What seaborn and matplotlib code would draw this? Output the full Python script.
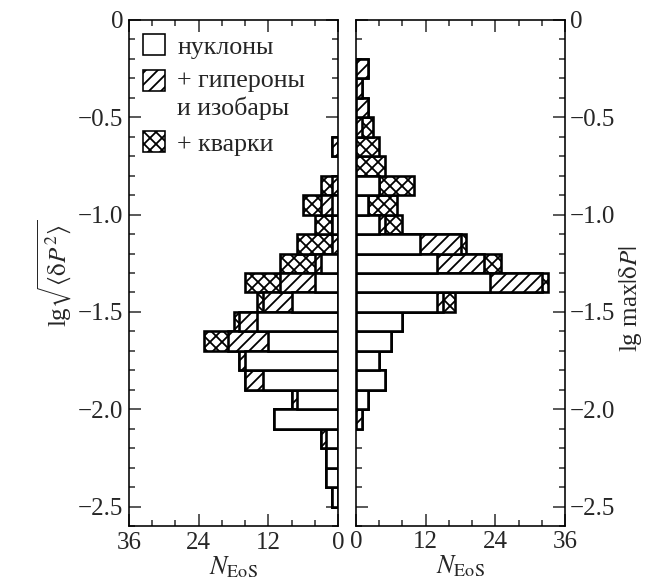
import numpy as np
import pandas as pd
import matplotlib
matplotlib.use('Agg')
import matplotlib.pyplot as plt
import seaborn as sns
from matplotlib.patches import Patch, Rectangle
from matplotlib.legend_handler import HandlerPatch
from matplotlib.ticker import MultipleLocator

# ---- data (bin centres of lg values, counts of EoS per bin) ----
bin_centers = [-0.25, -0.35, -0.45, -0.55, -0.65, -0.75, -0.85, -0.95, -1.05, -1.15,
               -1.25, -1.35, -1.45, -1.55, -1.65, -1.75, -1.85, -1.95, -2.05, -2.15,
               -2.25, -2.35, -2.45]
# left panel: lg sqrt(<dP^2>)
left_nucleons = [0, 0, 0, 0, 0, 0, 0, 1, 1, 0, 3, 4, 8, 14, 12, 16, 13, 7, 11, 2, 2, 2, 1]
left_hyperons = [0, 0, 0, 0, 1, 0, 1, 2, 0, 1, 1, 6, 5, 3, 7, 1, 3, 1, 0, 1, 0, 0, 0]
left_quarks   = [0, 0, 0, 0, 0, 0, 2, 3, 3, 6, 6, 6, 1, 1, 4, 0, 0, 0, 0, 0, 0, 0, 0]
# right panel: lg max|dP|
right_nucleons = [0, 0, 0, 0, 0, 0, 4, 2, 4, 11, 14, 23, 14, 8, 6, 4, 5, 2, 0, 0, 0, 0, 0]
right_hyperons = [2, 1, 2, 1, 0, 0, 0, 0, 1, 7, 8, 9, 1, 0, 0, 0, 0, 0, 1, 0, 0, 0, 0]
right_quarks   = [0, 0, 0, 2, 4, 5, 6, 5, 3, 1, 3, 1, 2, 0, 0, 0, 0, 0, 0, 0, 0, 0, 0]

legend_labels = ['нуклоны', '+ гипероны\nи изобары', '+ кварки']
x_ticks = [0, 12, 24, 36]
x_ticklabels = ['0', '12', '24', '36']
y_ticks = [0, -0.5, -1.0, -1.5, -2.0, -2.5]
y_ticklabels = ['0', '\u22120.5', '\u22121.0', '\u22121.5', '\u22122.0', '\u22122.5']

DPI = 72
sns.set_style('ticks')
plt.rcParams['font.family'] = ['Liberation Serif', 'DejaVu Serif']
plt.rcParams['mathtext.fontset'] = 'stix'
plt.rcParams['hatch.linewidth'] = 1.8
FS = 25
FS_LEG = 26

fig = plt.figure(figsize=(650 / DPI, 587 / DPI), dpi=DPI)
W, H = 650, 587
ax1 = fig.add_axes([129 / W, 1 - 526 / H, 209 / W, 506 / H])
ax2 = fig.add_axes([356 / W, 1 - 526 / H, 209 / W, 506 / H])

centers = np.round(np.array(bin_centers), 2)
HATCH_H = '//'
HATCH_Q = 'xx'


def draw(ax, nuc, hyp, qrk):
    nuc = np.array(nuc)
    hyp = np.array(hyp)
    qrk = np.array(qrk)
    layers = [(nuc + hyp + qrk, HATCH_Q), (nuc + hyp, HATCH_H), (nuc, '')]
    for vals, hatch in layers:
        m = vals > 0
        df = pd.DataFrame({'lg': centers[m], 'n': vals[m]})
        sns.barplot(data=df, x='n', y='lg', orient='h', native_scale=True,
                    width=1.0, color='white', saturation=1, edgecolor='black',
                    linewidth=2.6, hatch=hatch, errorbar=None, ax=ax)


draw(ax1, left_nucleons, left_hyperons, left_quarks)
draw(ax2, right_nucleons, right_hyperons, right_quarks)

for ax in (ax1, ax2):
    ax.set_ylim(-2.6, 0)
    ax.set_yticks(y_ticks)
    ax.yaxis.set_minor_locator(MultipleLocator(0.1))
    ax.set_xticks(x_ticks)
    ax.set_xticklabels(x_ticklabels)
    ax.xaxis.set_minor_locator(MultipleLocator(4))
    ax.tick_params(which='both', direction='in', top=True, right=True,
                   bottom=True, left=True, width=1.5, labelsize=FS, pad=6)
    ax.tick_params(which='major', length=12)
    ax.tick_params(which='minor', length=6)
    for s in ax.spines.values():
        s.set_linewidth(1.6)
        s.set_color('black')
    ax.set_xlabel(r'$N_{\mathrm{EoS}}$', fontsize=FS + 1, labelpad=0)

ax1.set_xlim(36, 0)
ax2.set_xlim(0, 36)

ax1.set_yticklabels(y_ticklabels)
ax1.set_ylabel(r'lg$\sqrt{\langle \mathrm{\delta} P^2 \rangle}$', fontsize=FS, labelpad=4)

ax2.set_yticklabels(y_ticklabels)
ax2.tick_params(labelleft=False, labelright=True, pad=5)
ax2.yaxis.set_label_position('right')
ax2.set_ylabel(r'lg max$|\mathrm{\delta} P|$', fontsize=FS)
ax2.yaxis.set_label_coords(1.25, 0.45)


def first_line_patch(legend, orig_handle, xdescent, ydescent, width, height, fontsize):
    return Rectangle((-xdescent, -ydescent + 0.55 * fontsize), width, height)


handles = [Patch(facecolor='white', edgecolor='black', linewidth=1.6, hatch=''),
           Patch(facecolor='white', edgecolor='black', linewidth=1.6, hatch=HATCH_H),
           Patch(facecolor='white', edgecolor='black', linewidth=1.6, hatch=HATCH_Q)]
ax1.legend(handles=handles, labels=legend_labels, loc='upper left',
           bbox_to_anchor=(0.0, 1.0), frameon=False, fontsize=FS_LEG,
           handlelength=0.85, handleheight=0.85, handletextpad=0.45,
           labelspacing=0.45, borderaxespad=0.15,
           handler_map={handles[1]: HandlerPatch(patch_func=first_line_patch)})

fig.savefig('out.png', dpi=DPI)
